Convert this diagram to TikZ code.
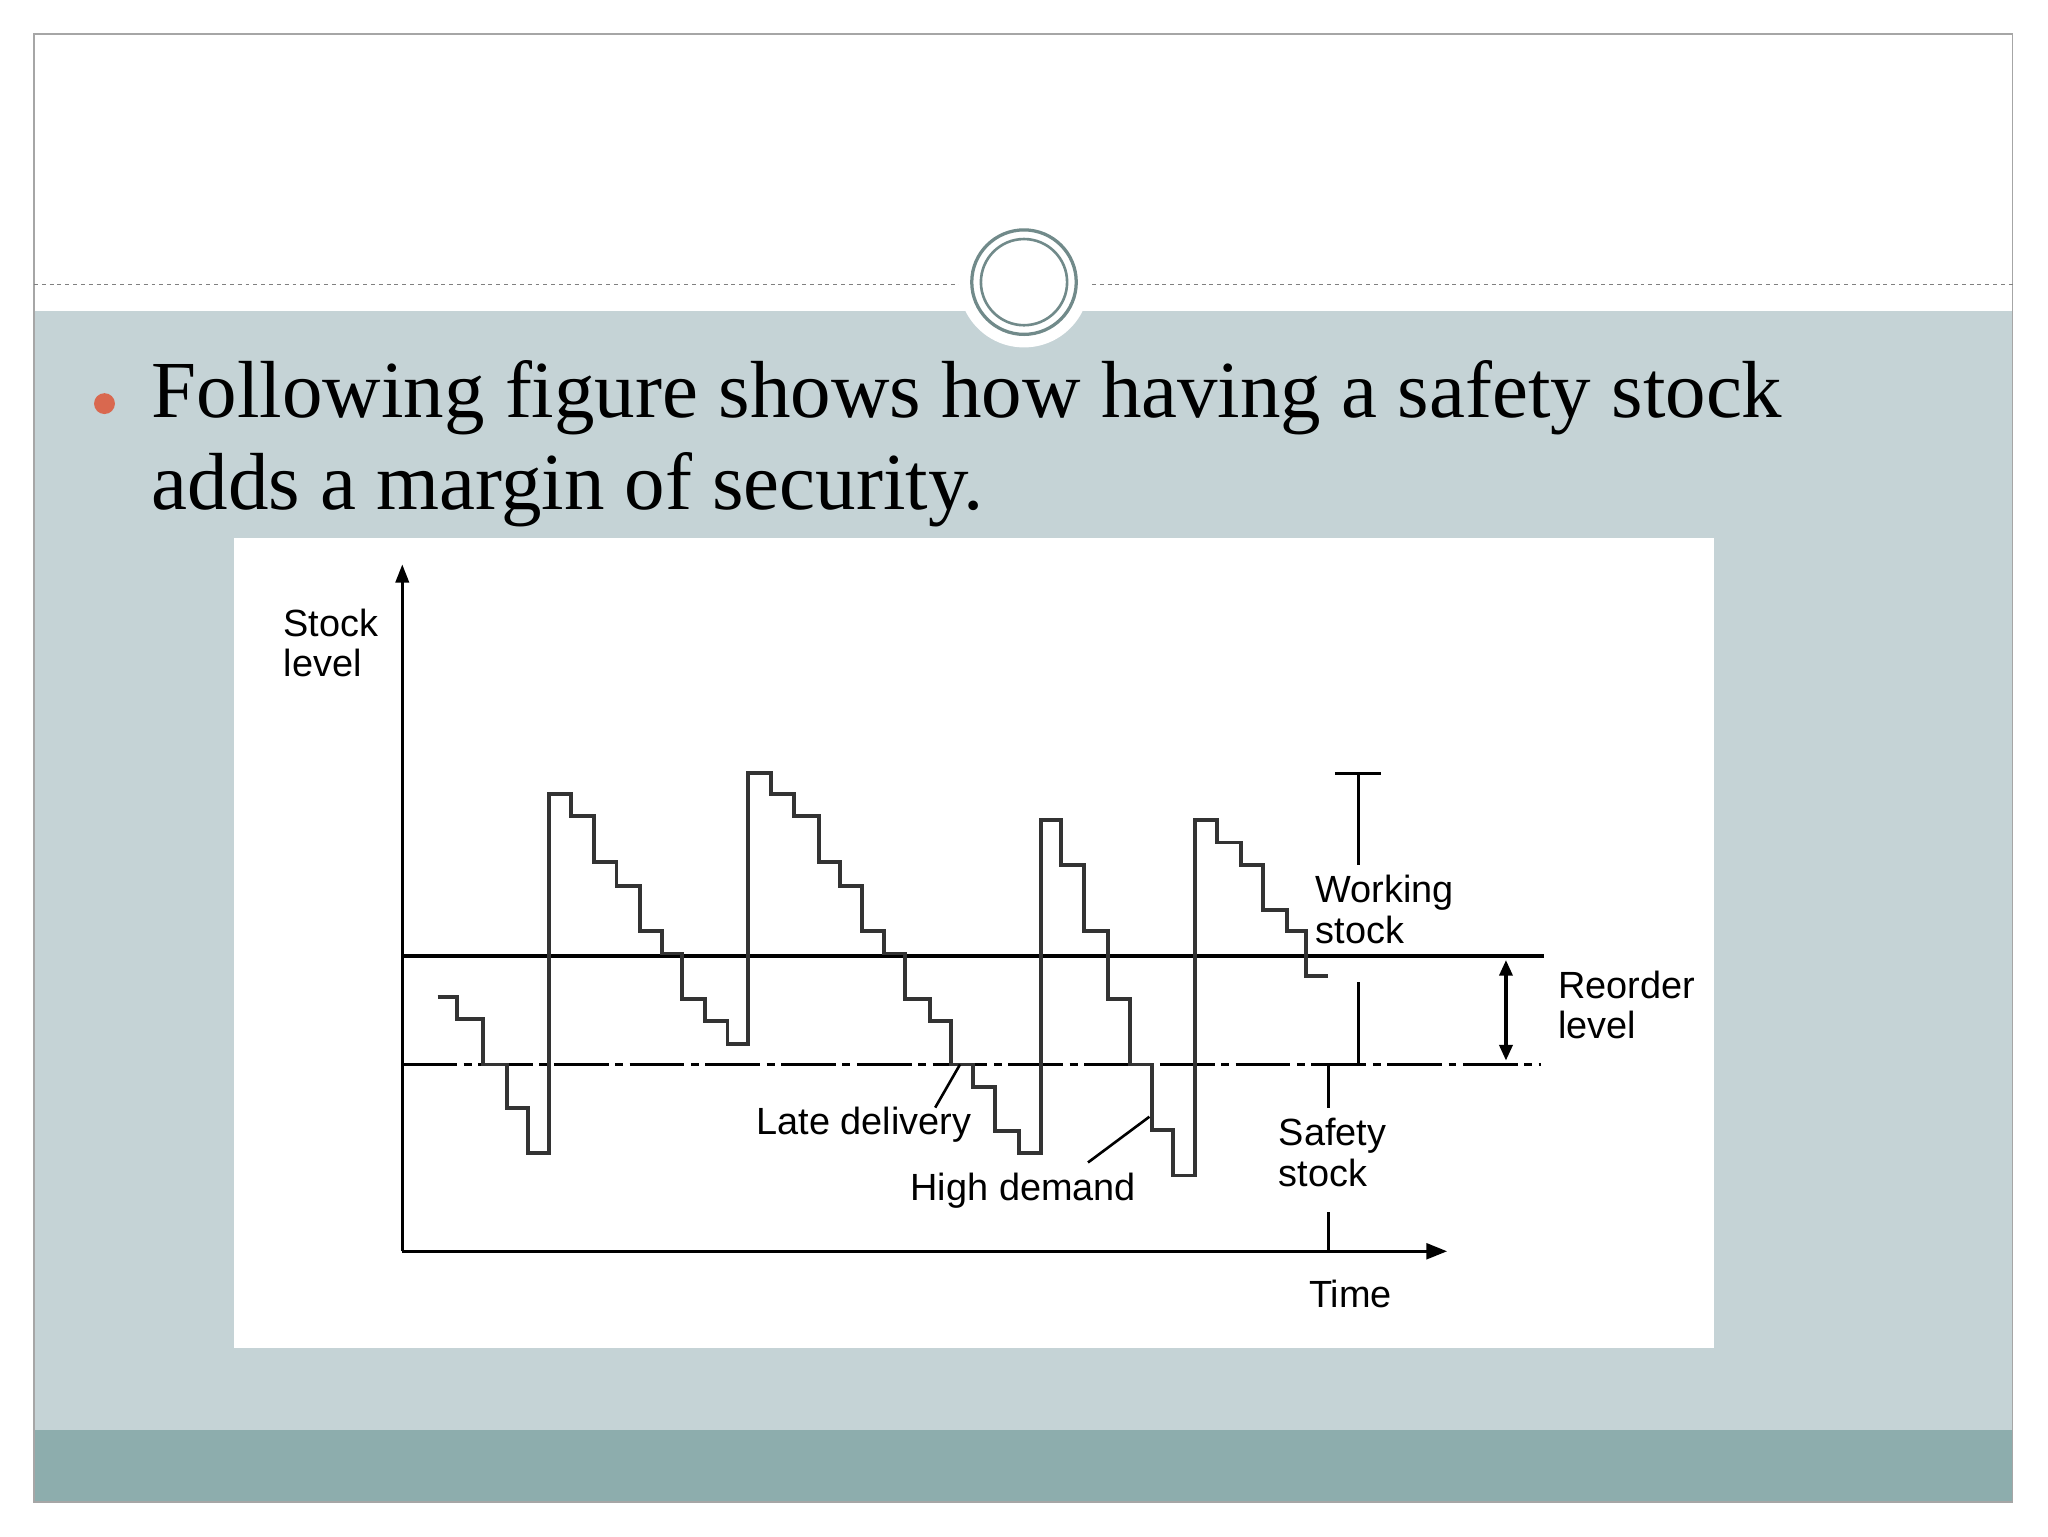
\documentclass[tikz,border=0pt]{standalone}
\usepackage{fontspec}
\setmainfont{Liberation Serif}
\setsansfont{Liberation Sans}
\usetikzlibrary{arrows.meta}
\definecolor{slidebg}{HTML}{C5D3D6}
\definecolor{band}{HTML}{8DADAD}
\definecolor{bul}{HTML}{D9684F}
\begin{document}
\begin{tikzpicture}[x=1pt,y=-1pt,
  lbl/.style={font=\sffamily\fontsize{29}{31}\selectfont,align=left,inner sep=0pt},
  ln/.style={line width=2.6pt},
  stair/.style={line width=3pt,black!80,line join=miter}]
\useasboundingbox (0,0) rectangle (1568,1176);
\fill[white] (0,0) rectangle (1568,1176);
\fill[slidebg] (26,238) rectangle (1541,1095);
\fill[band] (26,1095) rectangle (1541,1150);
\draw[gray!70,line width=1pt] (26,26) rectangle (1541,1150);
\draw[gray,dashed,line width=0.8pt] (26,218) -- (1541,218);
\fill[white] (784,216) circle (50);
\draw[band!80!black,line width=2.5pt] (784,216) circle (40);
\draw[band!80!black,line width=2pt] (784,216) circle (33);
\fill[bul] (80,309) circle (8);
\node[anchor=north west,align=left,inner sep=0pt,font=\fontsize{62}{70}\selectfont] (title) at (116,276) {Following figure shows how having a safety stock\\adds a margin of security.};
\fill[white] (179,412) rectangle (1312,1032);
% axes
\coordinate (o) at (308,958);
\coordinate (ytop) at (308,432);
\coordinate (xend) at (1108,958);
\draw[ln,-{Triangle[length=14pt,width=10pt]}] (o) -- (ytop);
\draw[ln,-{Triangle[length=16pt,width=12pt]}] (o) -- (xend);
\draw[ln] (308,732) -- (1182,732);
\draw[ln,dash pattern=on 42pt off 5pt on 6pt off 5pt] (308,815) -- (1180,815);
\draw[stair] (335,763) -| (350,780) -| (370,815) -| (388,848) -| (404,883) -| (420,608)
 -| (437,625) -| (455,660) -| (472,678) -| (490,713) -| (507,730) -| (522,765) -| (540,782) -| (557,799) -| (573,592)
 -| (590,608) -| (608,625) -| (627,660) -| (643,678) -| (660,713) -| (677,730) -| (693,765) -| (712,782) -| (728,815) -| (745,832) -| (762,866) -| (780,883) -| (797,628)
 -| (812,662) -| (830,713) -| (848,765) -| (865,815) -| (882,865) -| (898,900) -| (915,628)
 -| (932,645) -| (950,662) -| (967,697) -| (985,713) -| (1000,747) -- (1017,747);
% working stock marker
\draw[ln] (1022,592) -- (1057,592);
\draw[ln] (1040,592) -- (1040,662);
\draw[ln] (1040,752) -- (1040,815);
\draw[ln] (1017,815) -- (1017,848);
\draw[ln] (1017,928) -- (1017,958);
\draw[ln,{Triangle[length=12pt,width=10pt]}-{Triangle[length=12pt,width=10pt]}] (1153,735) -- (1153,812);
\draw[line width=2pt] (716,848) -- (735,815);
\draw[line width=2pt] (833,890) -- (880,855);
\node[lbl,anchor=north west] (sl) at (217,466) {Stock\\level};
\node[lbl,anchor=north west] (ws) at (1007,670) {Working\\stock};
\node[lbl,anchor=north west] (rl) at (1193,743) {Reorder\\level};
\node[lbl,anchor=north west] (ss) at (979,856) {Safety\\stock};
\node[lbl,anchor=north west] (ld) at (579,847) {Late delivery};
\node[lbl,anchor=north west] (hd) at (697,898) {High demand};
\node[lbl,anchor=north west] (tm) at (1002,980) {Time};
\end{tikzpicture}
\end{document}
